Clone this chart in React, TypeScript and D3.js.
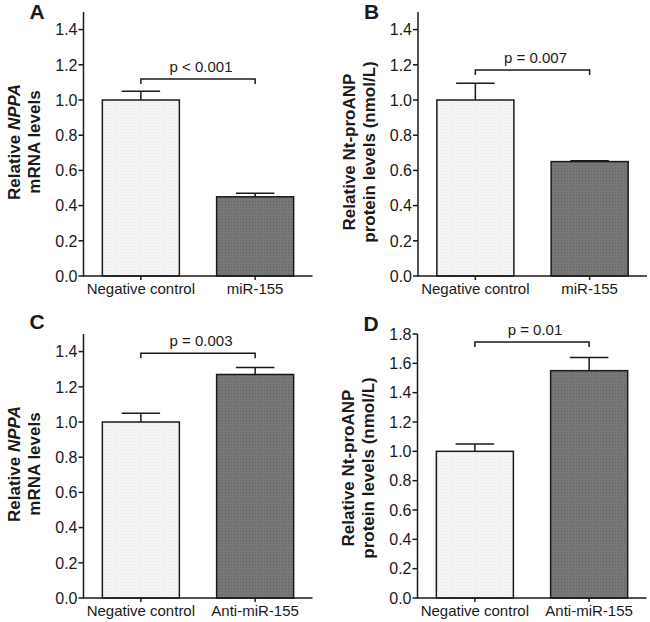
import React from "react";
import * as d3 from "d3";

// ---------- data ----------
const panelLetters = ["A", "B", "C", "D"];
const categoriesTop = ["Negative control", "miR-155"];
const categoriesBottom = ["Negative control", "Anti-miR-155"];
const meansA = [1.0, 0.45];
const errorsA = [0.05, 0.02];
const meansB = [1.0, 0.65];
const errorsB = [0.095, 0.005];
const meansC = [1.0, 1.27];
const errorsC = [0.05, 0.04];
const meansD = [1.0, 1.55];
const errorsD = [0.05, 0.09];
const pLabels = ["p < 0.001", "p = 0.007", "p = 0.003", "p = 0.01"];
const bracketLevels = [1.12, 1.17, 1.39, 1.745];
const yMaxes = [1.5, 1.5, 1.5, 1.8];
const yTickMaxes = [1.4, 1.4, 1.4, 1.8];
const yLabelLine1 = [
  ["Relative ", "NPPA"],
  ["Relative Nt-proANP", ""],
  ["Relative ", "NPPA"],
  ["Relative Nt-proANP", ""],
];
const yLabelLine2 = ["mRNA levels", "protein levels (nmol/L)", "mRNA levels", "protein levels (nmol/L)"];

// ---------- layout ----------
const axisXs = [83.5, 418, 83.5, 417.5];
const yBottoms = [276, 276, 598, 598];
const plotW = 229;
const plotH = 264;
const letterBaselines = [19, 19, 329, 331];
const labelCenters = [142, 152, 464, 468];

const FONT = "'Liberation Sans', Arial, Helvetica, sans-serif";
const INK = "#1a1a1a";

function Panel({ i }: { i: number }) {
  const means = [meansA, meansB, meansC, meansD][i];
  const errs = [errorsA, errorsB, errorsC, errorsD][i];
  const cats = i < 2 ? categoriesTop : categoriesBottom;
  const x0 = axisXs[i];
  const yb = yBottoms[i];
  const x = d3
    .scaleBand<string>()
    .domain(cats)
    .range([x0, x0 + plotW])
    .paddingInner(0.326)
    .paddingOuter(0.165);
  const y = d3.scaleLinear().domain([0, yMaxes[i]]).range([yb, yb - plotH]);
  const ticks = d3.range(0, yTickMaxes[i] + 0.001, 0.2);
  const bw = x.bandwidth();
  const fills = ["url(#lightPat)", "url(#darkPat)"];
  const cx = (c: string) => (x(c) as number) + bw / 2;
  const by = y(bracketLevels[i]);
  const bxl = cx(cats[0]);
  const bxr = cx(cats[1]);
  const line1 = yLabelLine1[i];
  const lc = labelCenters[i];

  return (
    <g>
      {/* panel letter */}
      <text x={x0 - 54} y={letterBaselines[i]} fontSize={21} fontWeight="bold" fill={INK} fontFamily={FONT}>
        {panelLetters[i]}
      </text>
      {/* y label */}
      <g transform={`translate(${x0 - 69},${lc}) rotate(-90)`}>
        <text textAnchor="middle" dy="0.35em" fontSize={17} fontWeight="bold" fill={INK} fontFamily={FONT}>
          {line1[0]}
          {line1[1] && <tspan fontStyle="italic">{line1[1]}</tspan>}
        </text>
      </g>
      <g transform={`translate(${x0 - 49},${lc}) rotate(-90)`}>
        <text textAnchor="middle" dy="0.35em" fontSize={17} fontWeight="bold" fill={INK} fontFamily={FONT}>
          {yLabelLine2[i]}
        </text>
      </g>
      {/* bars */}
      {cats.map((c, k) => (
        <rect
          key={c}
          x={x(c)}
          y={y(means[k])}
          width={bw}
          height={yb - y(means[k])}
          fill={fills[k]}
          stroke={INK}
          strokeWidth={1.5}
        />
      ))}
      {/* error bars */}
      {cats.map((c, k) => (
        <g key={"e" + c} stroke={INK} strokeWidth={1.5}>
          <line x1={cx(c)} x2={cx(c)} y1={y(means[k])} y2={y(means[k] + errs[k])} />
          <line x1={cx(c) - bw / 4} x2={cx(c) + bw / 4} y1={y(means[k] + errs[k])} y2={y(means[k] + errs[k])} />
        </g>
      ))}
      {/* axes */}
      <line x1={x0} x2={x0} y1={yb - plotH} y2={yb + 0.75} stroke={INK} strokeWidth={1.5} />
      <line x1={x0} x2={x0 + plotW} y1={yb} y2={yb} stroke={INK} strokeWidth={1.5} />
      {ticks.map((t) => (
        <g key={t}>
          <line x1={x0 - 5} x2={x0} y1={y(t)} y2={y(t)} stroke={INK} strokeWidth={1.5} />
          <text
            x={x0 - 6}
            y={y(t)}
            dy="0.36em"
            textAnchor="end"
            fontSize={16}
            fill={INK}
            fontFamily={FONT}
          >
            {t.toFixed(1)}
          </text>
        </g>
      ))}
      {cats.map((c) => (
        <g key={"t" + c}>
          <line x1={cx(c)} x2={cx(c)} y1={yb} y2={yb + 4} stroke={INK} strokeWidth={1.5} />
          <text x={cx(c)} y={yb + 18} textAnchor="middle" fontSize={15} fill={INK} fontFamily={FONT}>
            {c}
          </text>
        </g>
      ))}
      {/* significance bracket */}
      <path
        d={`M${bxl},${by + 5}V${by}H${bxr}V${by + 5}`}
        fill="none"
        stroke={INK}
        strokeWidth={1.5}
      />
      <text x={(bxl + bxr) / 2 + 3} y={by - 7} textAnchor="middle" fontSize={15} fill={INK} fontFamily={FONT}>
        {pLabels[i]}
      </text>
    </g>
  );
}

export default function App() {
  return (
    <svg
      width={650}
      height={622}
      style={{ position: "absolute", left: 0, top: 0, background: "#fff" }}
    >
      <defs>
        <pattern id="lightPat" width={3} height={3} patternUnits="userSpaceOnUse">
          <rect width={3} height={3} fill="#f4f4f4" />
          <rect width={1} height={1} fill="#e6e6e6" />
        </pattern>
        <pattern id="darkPat" width={3} height={3} patternUnits="userSpaceOnUse">
          <rect width={3} height={3} fill="#777777" />
          <rect width={1} height={1} fill="#636363" />
        </pattern>
      </defs>
      <rect width={650} height={622} fill="#fff" />
      {[0, 1, 2, 3].map((i) => (
        <Panel key={i} i={i} />
      ))}
    </svg>
  );
}
